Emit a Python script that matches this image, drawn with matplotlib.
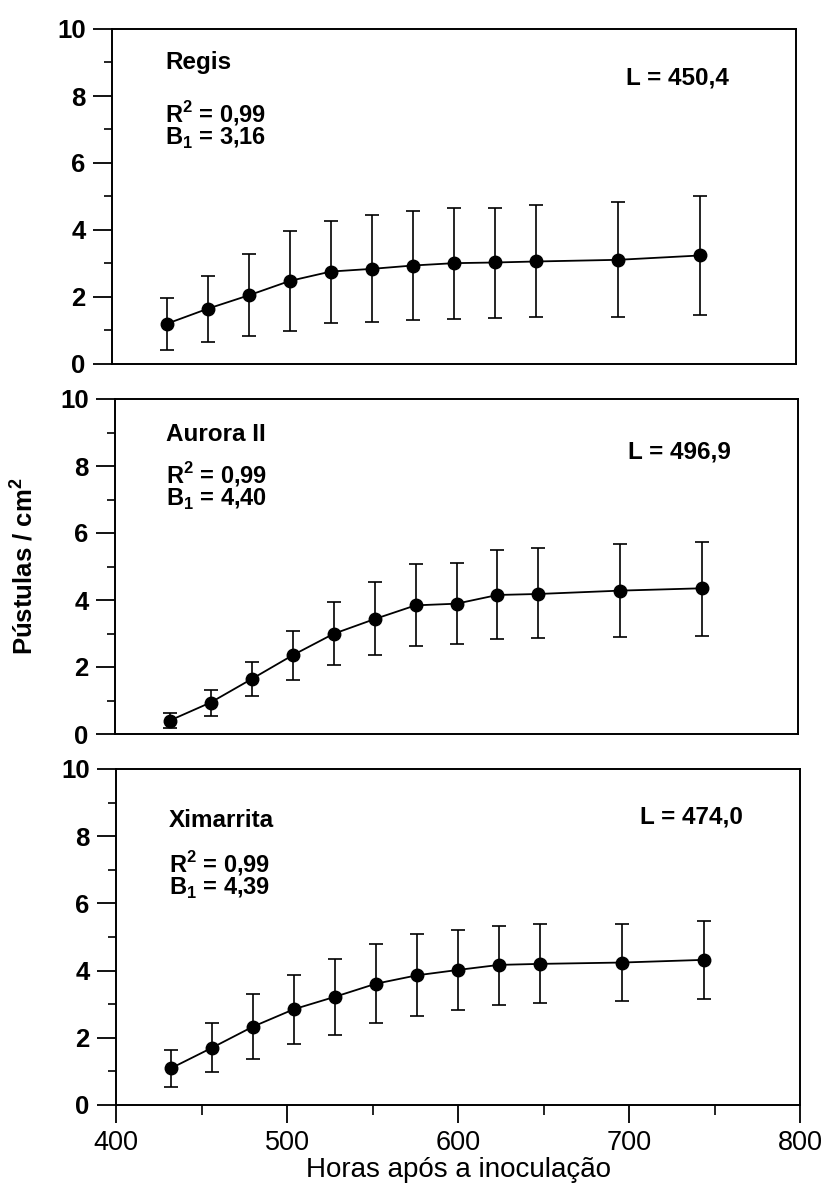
import numpy as np
import matplotlib
matplotlib.use("Agg")
import matplotlib.pyplot as plt
from matplotlib.ticker import MultipleLocator

plt.rcParams['font.family'] = ['Liberation Sans', 'DejaVu Sans']
plt.rcParams['mathtext.fontset'] = 'custom'
plt.rcParams['mathtext.rm'] = 'Liberation Sans:bold'
plt.rcParams['mathtext.bf'] = 'Liberation Sans:bold'

# hours after inoculation
hours = [432, 456, 480, 504, 528, 552, 576, 600, 624, 648, 696, 744]

# pustules / cm2 : mean, lower and upper end of the bars
regis_mean = [1.20, 1.65, 2.05, 2.48, 2.76, 2.84, 2.94, 3.01, 3.03, 3.06, 3.11, 3.24]
regis_low = [0.43, 0.66, 0.84, 0.99, 1.22, 1.24, 1.30, 1.34, 1.37, 1.39, 1.40, 1.47]
regis_high = [1.97, 2.63, 3.28, 3.98, 4.27, 4.45, 4.58, 4.67, 4.67, 4.75, 4.83, 5.00]

aurora_mean = [0.40, 0.94, 1.64, 2.35, 2.99, 3.43, 3.84, 3.89, 4.15, 4.18, 4.28, 4.35]
aurora_low = [0.18, 0.55, 1.12, 1.62, 2.07, 2.35, 2.63, 2.68, 2.83, 2.86, 2.91, 2.94]
aurora_high = [0.63, 1.32, 2.16, 3.06, 3.94, 4.53, 5.06, 5.10, 5.49, 5.55, 5.68, 5.74]

xima_mean = [1.09, 1.70, 2.33, 2.85, 3.22, 3.61, 3.86, 4.02, 4.17, 4.20, 4.24, 4.32]
xima_low = [0.55, 0.97, 1.38, 1.82, 2.09, 2.43, 2.66, 2.83, 2.98, 3.04, 3.10, 3.16]
xima_high = [1.64, 2.45, 3.30, 3.87, 4.35, 4.80, 5.08, 5.20, 5.34, 5.39, 5.39, 5.48]

cultivars = ["Regis", "Aurora II", "Ximarrita"]
r2_text = ["0,99", "0,99", "0,99"]
b1_text = ["3,16", "4,40", "4,39"]
l_text = ["450,4", "496,9", "474,0"]

means = [regis_mean, aurora_mean, xima_mean]
lows = [regis_low, aurora_low, xima_low]
highs = [regis_high, aurora_high, xima_high]

W, H = 827, 1185
# panel boxes in pixels: left, right, top, bottom
boxes = [(112, 796, 29, 364), (115, 798, 399, 734), (116, 800, 769, 1105)]
# text spots (axes fraction): name, R2+B1 block, L
name_pos = [(0.0775, 0.900), (0.0747, 0.893), (0.0775, 0.848)]
stat_pos = [(0.0775, 0.713), (0.0747, 0.740), (0.0775, 0.684)]
l_pos = [(0.751, 0.854), (0.751, 0.842), (0.766, 0.857)]

fig = plt.figure(figsize=(W / 100, H / 100), dpi=100)

axes = []
for i in range(3):
    l, r, t, b = boxes[i]
    ax = fig.add_axes([l / W, 1 - b / H, (r - l) / W, (b - t) / H])
    axes.append(ax)

    m = np.array(means[i])
    err = [m - np.array(lows[i]), np.array(highs[i]) - m]
    ax.errorbar(hours, m, yerr=err, fmt='-o', color='black', lw=1.3,
                ms=9, elinewidth=1.2, capsize=5, capthick=1.2)

    ax.set_xlim(400, 800)
    ax.set_ylim(0, 10)
    ax.yaxis.set_major_locator(MultipleLocator(2))
    ax.yaxis.set_minor_locator(MultipleLocator(1))
    ax.xaxis.set_major_locator(MultipleLocator(100))
    ax.xaxis.set_minor_locator(MultipleLocator(50))
    ax.tick_params(axis='y', which='major', length=14, width=1.3, pad=5, labelsize=18.5)
    ax.tick_params(axis='y', which='minor', length=6, width=1.2)
    ax.tick_params(axis='x', which='major', length=13, width=1.3, pad=5, labelsize=19.5)
    ax.tick_params(axis='x', which='minor', length=7, width=1.2)
    for lab in ax.get_yticklabels():
        lab.set_fontweight('bold')
    for s in ax.spines.values():
        s.set_linewidth(1.4)

    if i < 2:
        ax.tick_params(axis='x', which='both', bottom=False, labelbottom=False)

    ax.text(*name_pos[i], cultivars[i], transform=ax.transAxes, fontsize=17.5,
            fontweight='bold', ha='left', va='center')
    stats = r"R$^2$ = " + r2_text[i] + "\n" + r"B$_1$ = " + b1_text[i]
    ax.text(*stat_pos[i], stats, transform=ax.transAxes, fontsize=17,
            fontweight='bold', ha='left', va='center', linespacing=0.9)
    ax.text(*l_pos[i], "L = " + l_text[i], transform=ax.transAxes,
            fontsize=17.5, fontweight='bold', ha='left', va='center')

axes[1].set_ylabel("Pústulas / cm$^2$", fontsize=18.5, fontweight='bold')
axes[1].yaxis.set_label_coords(-0.114, 0.5)
axes[2].set_xlabel("Horas após a inoculação", fontsize=20, labelpad=1)

fig.savefig("out.png", dpi=100)
